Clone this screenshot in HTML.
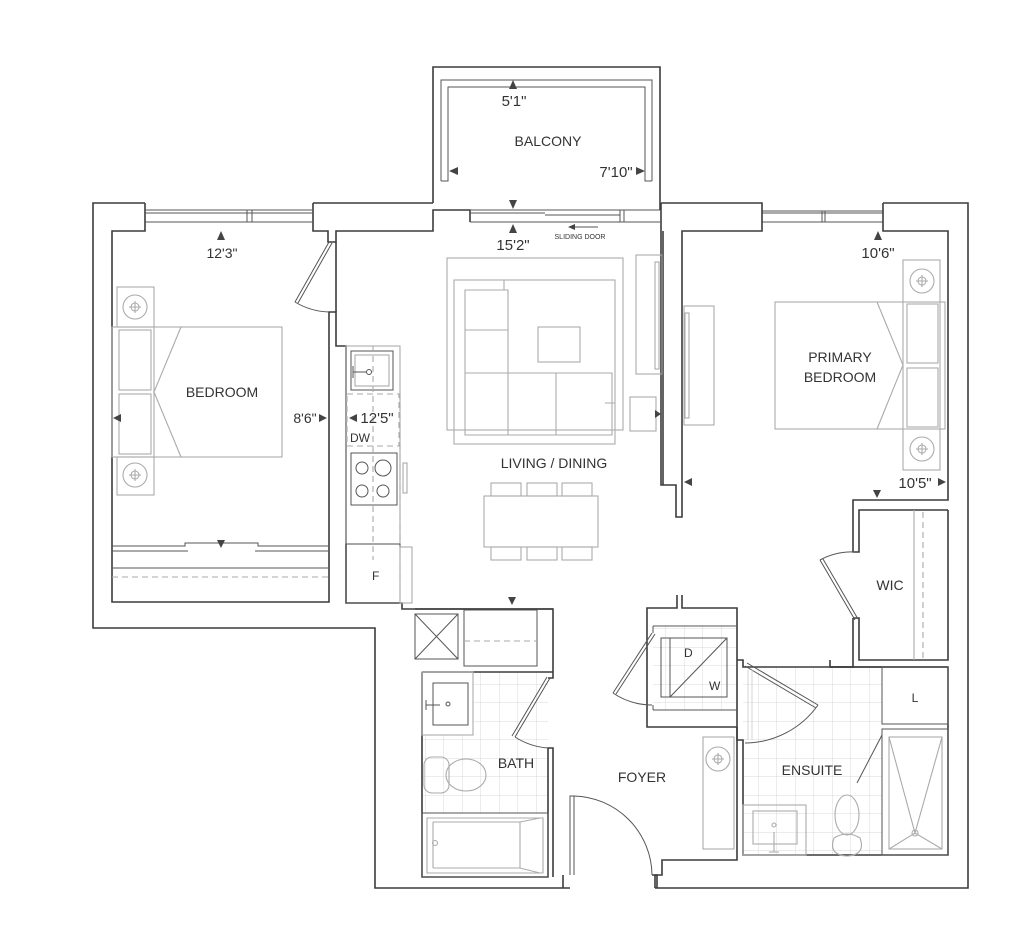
<!DOCTYPE html>
<html><head><meta charset="utf-8"><style>
html,body{margin:0;padding:0;background:#fff;}
svg{display:block;}
text{font-family:"Liberation Sans",Arial,sans-serif;fill:#333;}
.w{fill:none;stroke:#3c3c3c;stroke-width:1.6;}
.t{fill:none;stroke:#555;stroke-width:1;}
.f{fill:none;stroke:#ababab;stroke-width:1.1;}
.g{fill:none;stroke:#d6d6d6;stroke-width:1;}
.d{fill:none;stroke:#aaa;stroke-width:1.1;stroke-dasharray:6 4;}
</style></head><body>
<svg width="1024" height="942" viewBox="0 0 1024 942" xmlns="http://www.w3.org/2000/svg">
<defs>
<pattern id="tile" width="18.5" height="18.5" patternUnits="userSpaceOnUse"><path d="M18.5 0V18.5H0" fill="none" stroke="#d8d8d8" stroke-width="1"/></pattern>
</defs>

<rect x="473" y="672" width="75" height="141" fill="url(#tile)"/>
<rect x="422" y="735" width="51" height="78" fill="url(#tile)"/>
<rect x="653" y="626" width="84" height="84" fill="url(#tile)"/>
<rect x="743" y="667" width="139" height="188" fill="url(#tile)"/>

<path class="w" d="M433,203 V67 H660 V203"/>
<path class="t" d="M441,181 V80 H652 V181 M441,181 H448 V87 H645 V181 H652"/>

<path class="w" d="M145,203 H93 V628 H375 V888 H570"/>
<path class="w" d="M655,888 H968 V203 H883"/>
<path class="w" d="M145,203 V231 H112 V602 H329 V312 H336 V346 H346 V603 H402 V609 H553 V678 H548"/>
<path class="w" d="M313,203 V231 H328 V242 H336 V231 H433 V210 H470 V222"/>
<path class="w" d="M313,203 H433"/>
<path class="t" d="M145,210 H313 M145,213 H313 M145,222 H313 M247,210 V222 M252,210 V222"/>
<path class="t" d="M762,211 H883 M762,213 H883 M762,222 H883 M822,211 V222 M825,211 V222"/>
<path class="t" d="M470,210 H660 M470,213 H545 M545,215 H620 M470,222 H660 M620,210 V222 M624,210 V222"/>
<path class="w" d="M660,203 V210"/>
<path class="w" d="M661,203 H762 V231 H682 V502"/>
<path class="w" d="M883,203 V231 H948 V500 H853 V552 H859 V510 H948"/>
<path class="w" d="M661,203 V485 H676 V517 H682 V502"/>
<path class="w" d="M663,231 V485"/>
<path class="w" d="M853,618 H859 V660 H948 V510 M853,618 V667 H830 V660"/>
<path class="w" d="M830,667 H948"/>
<path class="f" d="M914,510 V660"/>
<path class="d" d="M923,512 V658"/>
<path class="t" d="M855,620 L820,560 M858,619 L823,559"/>
<path class="t" d="M820,560 A 68 68 0 0 1 855 552"/>

<path class="w" d="M677,595 V608 H647 V727 H737 V608 H682 V595"/>
<path class="w" d="M737,727 V740 H743 V855 H948 V667 H743 V660 H737"/>
<path class="t" d="M653,626 H737 M653,710 H737 M653,626 V633 M653,705 V710"/>
<rect class="t" x="661" y="638" width="66" height="59"/>
<path class="t" d="M727,638 L670,697 M670,638 V697"/>
<text x="684" y="657" font-size="12">D</text>
<text x="709" y="690" font-size="12">W</text>
<path class="t" d="M652,633 L613,693 M655,634 L616,694"/>
<path class="t" d="M613,693 A 70 70 0 0 0 652 705"/>

<path class="w" d="M737,727 V860 H662 V875 H655 V888"/>
<rect class="f" x="703" y="737" width="31" height="112"/>
<circle class="f" cx="718" cy="759" r="12"/>
<path class="f" d="M712,759 H724 M718,753 V765"/><circle class="f" cx="718" cy="759" r="4"/>

<path class="t" d="M570,875 V796 H574 V875"/>
<path class="t" d="M574,796 A 80 80 0 0 1 652 875"/>
<path class="w" d="M563,875 V888 M652,875 H657 V888"/>

<path class="w" d="M336,312 V242"/>
<rect class="f" x="346" y="346" width="54" height="198"/>
<rect class="t" x="351" y="351" width="42" height="39"/>
<rect class="f" x="355" y="355" width="34" height="31"/>
<path class="t" d="M353,366 V378 M353,372 H366"/><circle class="t" cx="369" cy="372" r="2.5"/>
<path class="d" d="M373,346 V560 M400,394 V603"/>
<rect class="d" x="347" y="394" width="52" height="52"/>
<rect class="t" x="351" y="453" width="46" height="52"/>
<circle class="t" cx="362" cy="468" r="6"/><circle class="t" cx="383" cy="468" r="8"/>
<circle class="t" cx="362" cy="491" r="6"/><circle class="t" cx="383" cy="491" r="6"/>
<rect class="f" x="403" y="463" width="4" height="30"/>
<rect class="t" x="346" y="544" width="54" height="59"/>
<rect class="f" x="400" y="547" width="12" height="56"/>
<text x="372" y="580" font-size="12">F</text>
<text x="350" y="442" font-size="12">DW</text>

<path class="t" d="M329,242 L295,302 M332,243 L298,303"/>
<path class="t" d="M295,302 A 70 70 0 0 0 329 312"/>

<path class="t" d="M112,546 H185 V543 H258 V546 H329 M112,551 H188 M255,551 H329 M112,568 H329"/>
<path class="d" d="M112,577 H329"/>
<path fill="#444" d="M217,540 L225,540 L221,548 Z"/>

<rect class="f" x="117" y="287" width="37" height="40"/>
<rect class="f" x="117" y="457" width="37" height="38"/>
<circle class="f" cx="135" cy="307" r="12"/><circle class="f" cx="135" cy="307" r="4"/><path class="f" d="M129,307 H141 M135,301 V313"/>
<circle class="f" cx="135" cy="475" r="12"/><circle class="f" cx="135" cy="475" r="4"/><path class="f" d="M129,475 H141 M135,469 V481"/>
<rect class="f" x="112" y="327" width="170" height="130"/>
<rect class="f" x="119" y="330" width="32" height="60"/>
<rect class="f" x="119" y="394" width="32" height="60"/>
<path class="f" d="M154,327 V457 M181,327 L154,392 L181,457"/>
<text x="222" y="397" font-size="14" text-anchor="middle">BEDROOM</text>
<text x="222" y="258" font-size="14" text-anchor="middle">12'3"</text>
<path fill="#444" d="M217,240 L221,231 L225,240 Z"/>
<text x="305" y="423" font-size="14" text-anchor="middle">8'6"</text>
<path fill="#444" d="M319,414 L327,418 L319,422 Z"/>
<path fill="#444" d="M121,414 L113,418 L121,422 Z"/>
<text x="377" y="423" font-size="15" text-anchor="middle">12'5"</text>
<path fill="#444" d="M357,414 L349,418 L357,422 Z"/>

<!-- Living -->
<rect class="f" x="447" y="258" width="176" height="172"/>
<rect class="f" x="454" y="280" width="161" height="164"/>
<path class="f" d="M465,290 V435 H612 V373 H508 V290 Z"/>
<path class="f" d="M465,280 H504 V290 M465,330 H508 M465,373 H508 M508,373 V435 M556,373 V435 M605,403 H615"/>
<rect class="f" x="538" y="327" width="42" height="35"/>
<rect class="f" x="636" y="255" width="26" height="119"/>
<rect class="f" x="655" y="262" width="4" height="107"/>
<rect class="f" x="630" y="397" width="26" height="34"/>
<path fill="#444" d="M655,410 L661,414 L655,418 Z"/>
<text x="554" y="468" font-size="14" text-anchor="middle">LIVING / DINING</text>
<rect class="f" x="484" y="496" width="114" height="51"/>
<rect class="f" x="491" y="483" width="30" height="13"/><rect class="f" x="527" y="483" width="30" height="13"/><rect class="f" x="562" y="483" width="30" height="13"/>
<rect class="f" x="491" y="547" width="30" height="13"/><rect class="f" x="527" y="547" width="30" height="13"/><rect class="f" x="562" y="547" width="30" height="13"/>

<text x="514" y="106" font-size="15" text-anchor="middle">5'1"</text>
<path fill="#444" d="M509,89 L513,80 L517,89 Z"/>
<text x="548" y="146" font-size="14" text-anchor="middle">BALCONY</text>
<text x="616" y="177" font-size="15" text-anchor="middle">7'10"</text>
<path fill="#444" d="M458,167 L449,171 L458,175 Z"/>
<path fill="#444" d="M636,167 L645,171 L636,175 Z"/>
<path fill="#444" d="M509,200 L513,209 L517,200 Z"/>
<path fill="#444" d="M509,233 L513,224 L517,233 Z"/>
<text x="513" y="250" font-size="15" text-anchor="middle">15'2"</text>
<text x="580" y="239" font-size="7" text-anchor="middle">SLIDING DOOR</text>
<path class="t" d="M570,227 H598"/><path fill="#444" d="M568,227 L575,224 L575,230 Z"/>

<rect class="f" x="684" y="306" width="30" height="119"/>
<rect class="f" x="685" y="313" width="4" height="105"/>
<rect class="f" x="775" y="302" width="170" height="127"/>
<rect class="f" x="903" y="260" width="37" height="210"/>
<rect class="f" x="907" y="304" width="31" height="59"/>
<rect class="f" x="907" y="368" width="31" height="59"/>
<path class="f" d="M877,302 L903,365 L877,429"/>
<circle class="f" cx="922" cy="281" r="12"/><circle class="f" cx="922" cy="281" r="4"/><path class="f" d="M916,281 H928 M922,275 V287"/>
<circle class="f" cx="922" cy="449" r="12"/><circle class="f" cx="922" cy="449" r="4"/><path class="f" d="M916,449 H928 M922,443 V455"/>
<text x="840" y="362" font-size="14" text-anchor="middle">PRIMARY</text>
<text x="840" y="382" font-size="14" text-anchor="middle">BEDROOM</text>
<text x="878" y="258" font-size="15" text-anchor="middle">10'6"</text>
<path fill="#444" d="M874,240 L878,231 L882,240 Z"/>
<text x="915" y="488" font-size="15" text-anchor="middle">10'5"</text>
<path fill="#444" d="M692,478 L684,482 L692,486 Z"/>
<path fill="#444" d="M938,478 L946,482 L938,486 Z"/>
<path fill="#444" d="M873,490 L881,490 L877,498 Z"/>
<text x="890" y="590" font-size="14" text-anchor="middle">WIC</text>

<path class="t" d="M747,663 L818,705 M745,666 L816,708"/>
<path class="t" d="M818,705 A 90 90 0 0 1 745 743"/>
<path class="g" d="M748,670 V740 M752,670 V740"/>
<rect class="t" x="882" y="667" width="66" height="57"/>
<text x="915" y="702" font-size="12" text-anchor="middle">L</text>
<rect class="t" x="882" y="729" width="66" height="126"/>
<rect class="f" x="889" y="737" width="53" height="112"/>
<path class="f" d="M889,737 L915,833 L942,737 M889,849 L915,833 L942,849"/>
<circle class="f" cx="915" cy="833" r="3"/>
<path class="t" d="M882,735 L857,783"/>
<rect class="f" x="743" y="805" width="63" height="50"/>
<rect class="f" x="753" y="811" width="44" height="33"/>
<circle class="f" cx="774" cy="825" r="2"/><path class="f" d="M774,832 V852 M769,852 H779"/>
<ellipse class="f" cx="847" cy="815" rx="12" ry="20"/>
<path class="f" d="M834,838 Q847,830 860,838 Q866,855 847,856 Q828,855 834,838 Z"/>
<text x="812" y="775" font-size="14" text-anchor="middle">ENSUITE</text>

<path class="w" d="M415,609 H553"/>
<rect class="t" x="415" y="614" width="43" height="45"/>
<path class="t" d="M415,614 L458,659 M458,614 L415,659"/>
<rect class="t" x="464" y="610" width="73" height="56"/>
<path class="d" d="M464,641 H537"/>
<path fill="#444" d="M508,597 L516,597 L512,605 Z"/>
<path class="w" d="M422,672 H553 M422,672 V877 H548 V748 H553 V877"/>
<rect class="f" x="422" y="672" width="51" height="63"/>
<rect class="t" x="433" y="683" width="35" height="42"/>
<path class="t" d="M426,700 V710 M426,705 H440"/><circle class="t" cx="448" cy="704" r="2"/>
<rect class="f" x="424" y="757" width="25" height="36" rx="8"/>
<ellipse class="f" cx="466" cy="775" rx="20" ry="16"/>
<rect class="t" x="422" y="813" width="126" height="64"/>
<path class="f" d="M427,818 H543 V873 H427 Z M433,822 H520 L540,818 M520,822 V868 M433,868 H520 L540,873 M433,822 V868"/>
<circle class="f" cx="435" cy="843" r="2.5"/>
<path class="t" d="M550,678 L515,737 M547,677 L512,736"/>
<path class="t" d="M515,737 A 70 70 0 0 0 548 748"/>
<text x="516" y="768" font-size="14" text-anchor="middle">BATH</text>
<text x="642" y="782" font-size="14" text-anchor="middle">FOYER</text>
</svg>
</body></html>
